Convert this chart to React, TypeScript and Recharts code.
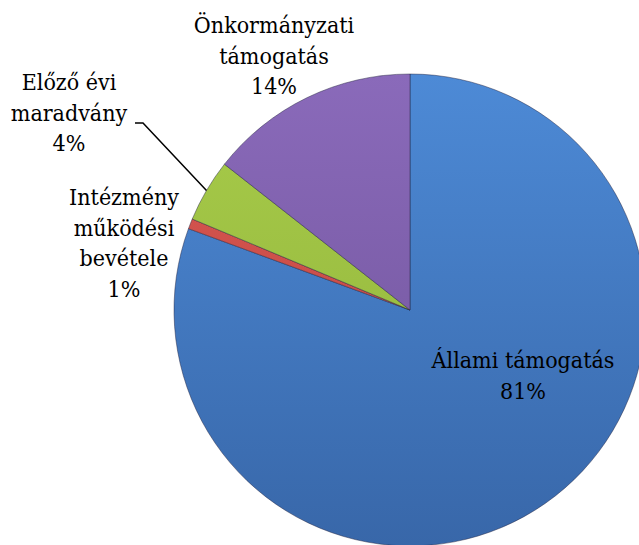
import { Cell, Pie, PieChart } from "recharts";

const categories = [
  "Állami támogatás",
  "Intézmény működési bevétele",
  "Előző évi maradvány",
  "Önkormányzati támogatás",
];
const labelLines = [
  ["Állami támogatás"],
  ["Intézmény", "működési", "bevétele"],
  ["Előző évi", "maradvány"],
  ["Önkormányzati", "támogatás"],
];
const values = [80.6, 0.7, 4.3, 14.4];

const gradients = [
  ["#4d8ad6", "#3867a9"],
  ["#dc5a54", "#b8403c"],
  ["#a8cc4a", "#8fb13a"],
  ["#8a6aba", "#6e5298"],
];

// where each label block sits (centre x, first baseline y)
const labelPos = [
  [523, 368],
  [124, 205],
  [69, 90],
  [274, 33],
];

const data = categories.map((name, i) => ({ name, value: values[i] }));
const font = '"DejaVu Serif Condensed", "DejaVu Serif", serif';

function renderLabel(props: any) {
  const { index, percent, cx, cy, midAngle, outerRadius } = props;
  const [x, y] = labelPos[index];
  const lines = [...labelLines[index], `${Math.round(percent * 100)}%`];
  const rad = (Math.PI / 180) * midAngle;
  const ex = cx + outerRadius * Math.cos(rad);
  const ey = cy - outerRadius * Math.sin(rad);
  return (
    <g key={`lbl-${index}`}>
      {index === 2 && (
        <polyline
          points={`135,123 143,123 ${ex},${ey}`}
          fill="none"
          stroke="#000"
          strokeWidth={1.5}
        />
      )}
      <text
        x={x}
        y={y}
        textAnchor="middle"
        fontFamily={font}
        fontSize={23}
        style={{ fontFamily: font, fontSize: 23 }}
        fill="#000"
      >
        {lines.map((t, i) => (
          <tspan key={i} x={x} y={y + i * 30.5} fontFamily={font}>
            {t}
          </tspan>
        ))}
      </text>
    </g>
  );
}

export default function App() {
  return (
    <div style={{ position: "absolute", left: 0, top: 0, width: 639, height: 545, background: "#fff", fontFamily: font }}>
      <PieChart width={639} height={545} margin={{ top: 0, right: 0, bottom: 0, left: 0 }}>
        <defs>
          {gradients.map(([a, b], i) => (
            <linearGradient key={i} id={`g${i}`} x1="0" y1="75" x2="0" y2="545" gradientUnits="userSpaceOnUse">
              <stop offset="0%" stopColor={a} />
              <stop offset="100%" stopColor={b} />
            </linearGradient>
          ))}
        </defs>
        <Pie
          data={data}
          dataKey="value"
          nameKey="name"
          cx={410}
          cy={310}
          outerRadius={236}
          startAngle={90}
          endAngle={-270}
          stroke="rgba(30,30,60,0.45)"
          strokeWidth={1}
          label={renderLabel}
          labelLine={false}
          isAnimationActive={false}
        >
          {data.map((d, i) => (
            <Cell key={d.name} fill={`url(#g${i})`} />
          ))}
        </Pie>
      </PieChart>
    </div>
  );
}
